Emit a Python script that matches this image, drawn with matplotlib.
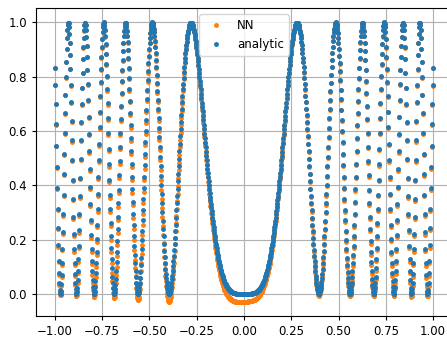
import numpy as np
import matplotlib
matplotlib.use("Agg")
import matplotlib.pyplot as plt

# sampling: x from -1 to 1, dot spacing ~0.002
x_lo, x_hi, n_pts = -1.0, 1.0, 1000
# analytic target sin(k*x^2)^2 -> zeros at 0, +-0.40, 0.56, 0.69, 0.80, 0.89, 0.97
k = 20.0
# how far the NN dots sit under the target at its minima, left to right
nn_knots = [-1.0, -0.75, -0.6, -0.4, 0.0, 0.3, 0.6, 1.0]
nn_dip = [0.005, 0.015, 0.02, 0.03, 0.03, 0.005, 0.01, 0.01]


def main():
	x = np.linspace(x_lo, x_hi, n_pts)
	analytic = np.sin(k * x ** 2) ** 2
	dip = np.interp(x, nn_knots, nn_dip)
	nn = analytic - dip * (1 - analytic)

	fig = plt.figure(figsize=(4.47, 3.37), dpi=100)
	ax = fig.add_axes([0.0805, 0.0623, 0.9306, 0.9125])

	ax.plot(x, nn, '.', color='C1', ms=5, label='NN')
	ax.plot(x, analytic, '.', color='C0', ms=5, label='analytic')

	ax.set_xticks([-1.0, -0.75, -0.5, -0.25, 0.0, 0.25, 0.5, 0.75, 1.0])
	ax.set_yticks([0.0, 0.2, 0.4, 0.6, 0.8, 1.0])
	ax.tick_params(labelsize=8.5, length=3)
	ax.grid(True)
	ax.legend(loc='upper center', fontsize=8.5)

	fig.savefig("out.png", dpi=100)


if __name__ == "__main__":
	main()
